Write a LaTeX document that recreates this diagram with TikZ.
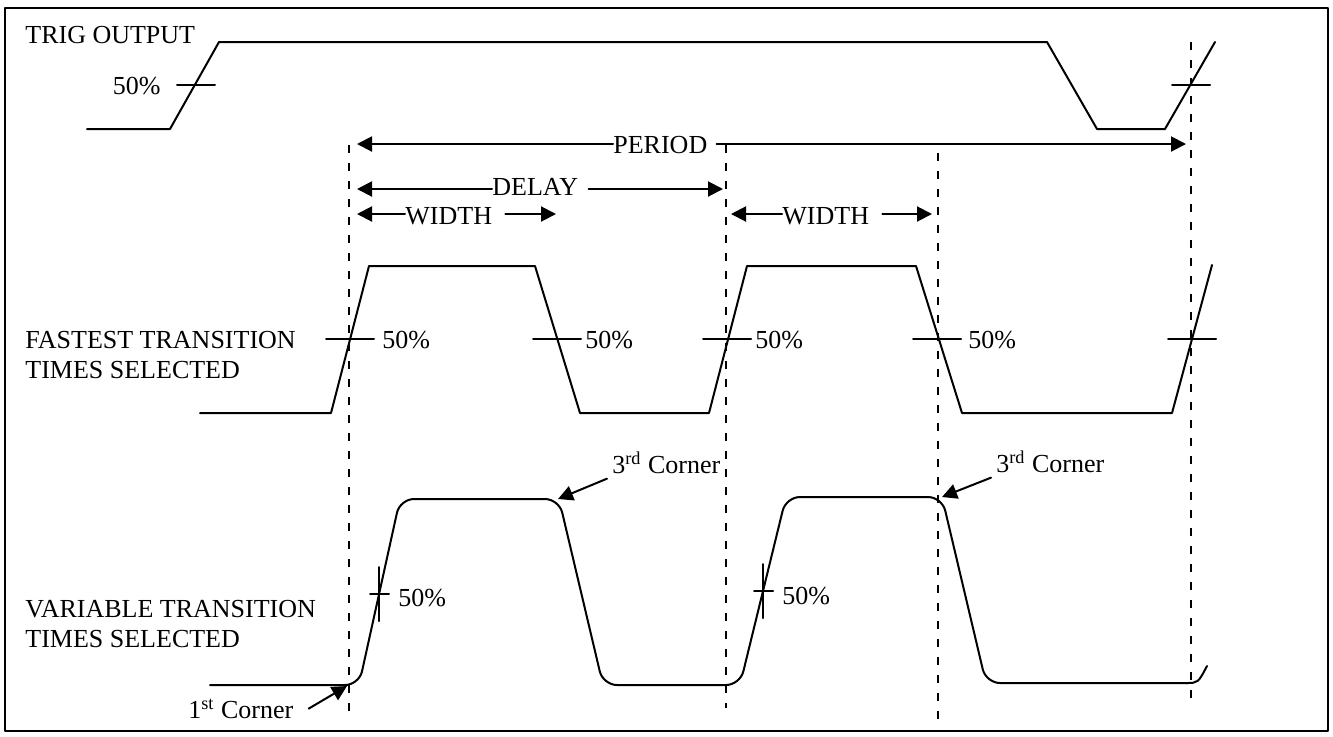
\documentclass[tikz,border=0pt]{standalone}
\usepackage{fontspec}
\setmainfont{Liberation Serif}
\usetikzlibrary{arrows.meta}

\tikzset{
  sig/.style={line width=1pt},
  guide/.style={line width=0.8pt,line cap=butt,dash pattern=on 4pt off 5pt},
  dim/.style={line width=1pt},
  lbl/.style={inner sep=0pt,font=\fontsize{13}{15}\selectfont},
  corner/.style={inner sep=2.5pt,font=\fontsize{13}{15}\selectfont},
}

\begin{document}
\begin{tikzpicture}[line cap=round,line join=round,>={Triangle[length=7.5pt,width=7.5pt]},x=0.5pt,y=-0.5pt]
  \useasboundingbox (0,0) rectangle (1333,736);
  \draw[line width=1pt,line cap=butt] (5,8) rectangle (1328,731);
  % dashed reference lines
  \foreach \x/\a/\b in {349/145/712,726/145/708,938/153/720,1191/42/703}
    \draw[guide] (\x,\a) -- (\x,\b);
  % trig output
  \node[lbl,anchor=base west] (trig) at (25,43) {TRIG OUTPUT};
  \node[lbl,anchor=base east] (t50) at (161,94) {50\%};
  \draw[sig] (87,129) -- (170,129) -- (219,42) -- (1047,42) -- (1097,129) -- (1165,129) -- (1215,42);
  \foreach \x in {196,1191}
    \draw[sig,shift={(\x,85)}] (-19,0) -- (19,0);
  % period, delay, width
  \coordinate (pL) at (357,144);
  \coordinate (pR) at (1186,144);
  \node[lbl,anchor=base west] (period) at (613,153) {PERIOD};
  \draw[dim,<-] (pL) -- (pL -| period.west);
  \draw[dim,->] ([xshift=4.5pt]pR -| period.east) -- (pR);
  \coordinate (dL) at (357,189);
  \coordinate (dR) at (723,189);
  \node[lbl,anchor=base west] (delay) at (492,195) {DELAY};
  \draw[dim,<-] (dL) -- (dL -| delay.west);
  \draw[dim,->] ([xshift=5pt]dR -| delay.east) -- (dR);
  \coordinate (waL) at (357,214);
  \coordinate (waR) at (556,214);
  \node[lbl,anchor=base west] (widtha) at (405,224) {WIDTH};
  \draw[dim,<-] (waL) -- (waL -| widtha.west);
  \draw[dim,->] ([xshift=6.5pt]waR -| widtha.east) -- (waR);
  \coordinate (wbL) at (731,214);
  \coordinate (wbR) at (932,214);
  \node[lbl,anchor=base west] (widthb) at (782,224) {WIDTH};
  \draw[dim,<-] (wbL) -- (wbL -| widthb.west);
  \draw[dim,->] ([xshift=6.5pt]wbR -| widthb.east) -- (wbR);
  % fastest transition times
  \node[lbl,anchor=north west,align=left] (fast) at (25,331) {FASTEST TRANSITION\\TIMES SELECTED};
  \draw[sig] (200,413) -- (331,413) -- (369,266) -- (535,266) -- (580,413) -- (709,413) -- (747,266) -- (916,266) -- (962,413) -- (1172,413) -- (1212,265);
  \foreach \x in {350,557,727,937,1192}
    \draw[sig,shift={(\x,339)}] (-24,0) -- (24,0);
  \node[lbl,anchor=base west] (f50a) at (382,348) {50\%};
  \node[lbl,anchor=base west] (f50b) at (585,348) {50\%};
  \node[lbl,anchor=base west] (f50c) at (755,348) {50\%};
  \node[lbl,anchor=base west] (f50d) at (968,348) {50\%};
  % variable transition times
  \node[lbl,anchor=north west,align=left] (var) at (25,600) {VARIABLE TRANSITION\\TIMES SELECTED};
  \draw[sig,rounded corners=7pt] (210,685) -- (359,685) -- (400,499) -- (559,499) -- (603,685) -- (740,685) -- (786,497) -- (942,497) -- (986,683) -- (1188,683);
  \draw[sig] (1186,683) .. controls (1198,683) .. (1207,666);
  \foreach \x/\y in {379/594,763/591}
    \draw[sig,shift={(\x,\y)}] (0,-27) -- (0,27) (-9,0) -- (10,0);
  \node[lbl,anchor=base west] (v50a) at (398,606) {50\%};
  \node[lbl,anchor=base west] (v50b) at (782,604) {50\%};
  % corners
  \coordinate (k1) at (347,686);
  \coordinate (k3a) at (558,499);
  \coordinate (k3b) at (942,497);
  \node[corner,anchor=base west] (c1) at (183,718) {1\textsuperscript{st} Corner};
  \node[corner,anchor=base west] (c3a) at (607,473) {3\textsuperscript{rd} Corner};
  \node[corner,anchor=base west] (c3b) at (991,472) {3\textsuperscript{rd} Corner};
  \draw[dim,->] ([xshift=5pt]c1.east) -- (k1);
  \draw[dim,->] (c3a.south west) -- (k3a);
  \draw[dim,->] (c3b.south west) -- (k3b);
\end{tikzpicture}
\end{document}
